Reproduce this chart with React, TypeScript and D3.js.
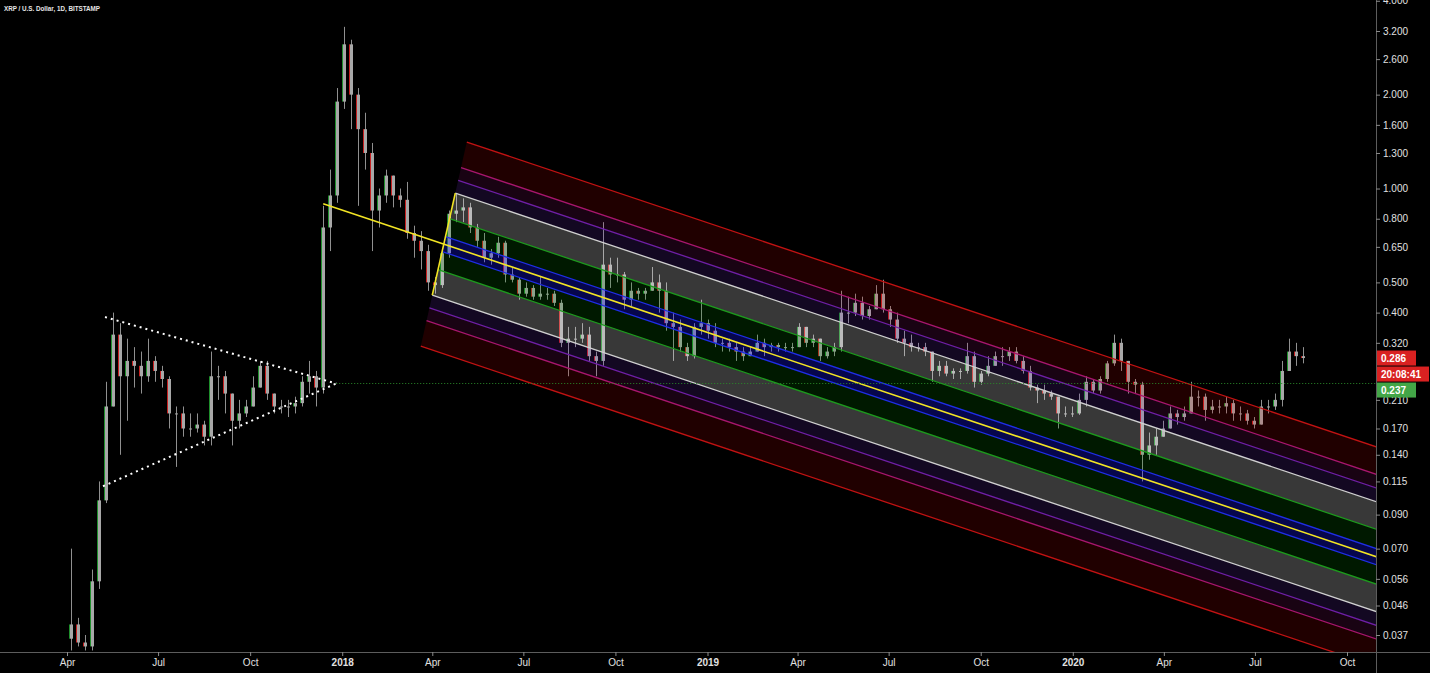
import * as d3 from 'd3'
import React, { useRef, useEffect } from 'react'

// weekly XRP/USD bars, starting 2017-04-01
const firstWeek = '2017-04-01'
const firstOpen = 0.036
const closes = [
  0.04, 0.035, 0.034, 0.055, 0.1, 0.2, 0.34, 0.25, 0.28, 0.27, 0.25, 0.28, 0.26, 0.245, 0.19, 0.19, 0.17, 0.17, 0.175, 0.16,
  0.25, 0.25, 0.22, 0.18, 0.19, 0.2, 0.23, 0.27, 0.22, 0.2, 0.2, 0.2, 0.205, 0.24, 0.25, 0.23, 0.75, 0.95, 1.9, 2.9,
  2.0, 1.55, 1.3, 0.85, 0.95, 1.1, 0.95, 0.92, 0.72, 0.68, 0.63, 0.5, 0.49, 0.62, 0.83, 0.85, 0.87, 0.75, 0.68, 0.6,
  0.62, 0.67, 0.53, 0.51, 0.46, 0.48, 0.45, 0.46, 0.46, 0.43, 0.32, 0.33, 0.33, 0.34, 0.29, 0.28, 0.57, 0.53, 0.53, 0.44,
  0.47, 0.46, 0.47, 0.5, 0.47, 0.37, 0.36, 0.31, 0.29, 0.36, 0.37, 0.35, 0.32, 0.32, 0.31, 0.3, 0.29, 0.3, 0.32, 0.31,
  0.315, 0.31, 0.31, 0.31, 0.36, 0.32, 0.33, 0.29, 0.3, 0.31, 0.4, 0.4, 0.43, 0.39, 0.41, 0.46, 0.41, 0.38, 0.33, 0.32,
  0.31, 0.31, 0.3, 0.26, 0.27, 0.255, 0.26, 0.26, 0.29, 0.24, 0.255, 0.27, 0.29, 0.29, 0.3, 0.28, 0.26, 0.23, 0.225, 0.22,
  0.215, 0.19, 0.19, 0.19, 0.21, 0.24, 0.225, 0.245, 0.275, 0.32, 0.28, 0.24, 0.235, 0.14, 0.15, 0.16, 0.17, 0.19, 0.185, 0.19,
  0.215, 0.215, 0.195, 0.2, 0.2, 0.205, 0.19, 0.19, 0.18, 0.175, 0.2, 0.2, 0.21, 0.26, 0.3, 0.29, 0.286,
]
const highs = [
  0.07, 0.042, 0.037, 0.06, 0.115, 0.24, 0.4, 0.37, 0.33, 0.31, 0.3, 0.33, 0.29, 0.27, 0.25, 0.2, 0.2, 0.19, 0.19, 0.18,
  0.3, 0.27, 0.26, 0.22, 0.21, 0.21, 0.25, 0.28, 0.28, 0.22, 0.21, 0.21, 0.215, 0.25, 0.28, 0.26, 0.88, 1.15, 2.1, 3.3,
  3.0, 2.1, 1.75, 1.4, 1.0, 1.15, 1.1, 1.0, 1.05, 0.76, 0.73, 0.66, 0.52, 0.64, 0.85, 0.96, 0.93, 0.9, 0.77, 0.72,
  0.64, 0.7, 0.68, 0.56, 0.52, 0.5, 0.49, 0.52, 0.48, 0.47, 0.44, 0.36, 0.36, 0.37, 0.36, 0.3, 0.78, 0.6, 0.6, 0.54,
  0.5, 0.48, 0.48, 0.56, 0.53, 0.5, 0.4, 0.38, 0.32, 0.37, 0.44, 0.38, 0.37, 0.33, 0.33, 0.32, 0.31, 0.31, 0.34, 0.33,
  0.32, 0.32, 0.32, 0.32, 0.37, 0.36, 0.34, 0.33, 0.31, 0.32, 0.47, 0.45, 0.46, 0.45, 0.42, 0.49, 0.51, 0.42, 0.4, 0.35,
  0.34, 0.32, 0.32, 0.3, 0.28, 0.28, 0.265, 0.265, 0.32, 0.3, 0.26, 0.29, 0.3, 0.31, 0.31, 0.31, 0.29, 0.27, 0.235, 0.235,
  0.225, 0.215, 0.2, 0.2, 0.22, 0.25, 0.245, 0.25, 0.28, 0.34, 0.33, 0.28, 0.245, 0.24, 0.165, 0.17, 0.18, 0.2, 0.195, 0.2,
  0.24, 0.225, 0.22, 0.21, 0.21, 0.215, 0.21, 0.2, 0.195, 0.185, 0.21, 0.21, 0.22, 0.28, 0.33, 0.32, 0.31,
]
const lows = [
  0.033, 0.034, 0.033, 0.033, 0.052, 0.098, 0.2, 0.14, 0.18, 0.23, 0.22, 0.24, 0.24, 0.23, 0.17, 0.128, 0.16, 0.16, 0.165, 0.15,
  0.15, 0.21, 0.19, 0.15, 0.17, 0.185, 0.2, 0.23, 0.21, 0.19, 0.19, 0.185, 0.19, 0.2, 0.22, 0.2, 0.22, 0.63, 0.9, 1.8,
  1.55, 0.88, 1.15, 0.63, 0.75, 0.9, 0.87, 0.87, 0.69, 0.6, 0.55, 0.47, 0.46, 0.48, 0.6, 0.78, 0.78, 0.72, 0.65, 0.58,
  0.57, 0.6, 0.5, 0.5, 0.44, 0.45, 0.44, 0.44, 0.44, 0.42, 0.31, 0.25, 0.31, 0.32, 0.28, 0.25, 0.27, 0.48, 0.5, 0.41,
  0.42, 0.44, 0.44, 0.47, 0.4, 0.35, 0.28, 0.3, 0.28, 0.285, 0.34, 0.33, 0.31, 0.3, 0.3, 0.28, 0.28, 0.29, 0.3, 0.29,
  0.3, 0.3, 0.3, 0.3, 0.31, 0.31, 0.31, 0.28, 0.285, 0.29, 0.3, 0.37, 0.39, 0.38, 0.38, 0.41, 0.4, 0.36, 0.32, 0.29,
  0.3, 0.3, 0.29, 0.24, 0.25, 0.25, 0.245, 0.245, 0.255, 0.23, 0.235, 0.25, 0.27, 0.27, 0.28, 0.275, 0.255, 0.225, 0.205, 0.21,
  0.21, 0.17, 0.185, 0.185, 0.188, 0.2, 0.22, 0.22, 0.24, 0.27, 0.26, 0.22, 0.22, 0.115, 0.135, 0.14, 0.16, 0.17, 0.175, 0.18,
  0.19, 0.2, 0.18, 0.19, 0.19, 0.19, 0.18, 0.18, 0.175, 0.17, 0.175, 0.19, 0.195, 0.2, 0.26, 0.27, 0.275,
]

// 0.260 is hidden behind the price labels in the reference
const priceTicks = [4.0, 3.2, 2.6, 2.0, 1.6, 1.3, 1.0, 0.8, 0.65, 0.5, 0.4, 0.32, 0.21, 0.17, 0.14, 0.115, 0.09, 0.07, 0.056, 0.046, 0.037]
const lastPrice = 0.286
const countdown = '20:08:41'
const rayPrice = 0.237
const title = 'XRP / U.S. Dollar, 1D, BITSTAMP'

// drawings: [date, price]
const triangleUpper = [['2017-05-09', 0.387], ['2017-12-26', 0.237]]
const triangleLower = [['2017-05-07', 0.111], ['2017-12-26', 0.237]]
const rayStart = '2017-12-26'
// handle, high, low
const pitchfork = [['2017-12-13', 0.894], ['2018-04-24', 0.967], ['2018-04-01', 0.455]]
const forkLevels = [0, 0.146, 0.5, 1, 1.25, 1.5, 2]
const forkLineColors = ['#f2e424', '#1f2ee6', '#1d9a1d', '#d0d0d0', '#6f1fa6', '#a8166e', '#c21212']
const forkFillColors = [
  'none',
  'rgba(20,20,255,0.30)',
  'rgba(0,150,0,0.17)',
  'rgba(255,255,255,0.22)',
  'rgba(120,50,210,0.16)',
  'rgba(170,20,130,0.15)',
  'rgba(200,0,0,0.16)',
]

const W = 1430
const H = 673
const plotRight = 1376
const plotBottom = 652
const font = '"Liberation Sans", Arial, sans-serif'

const App = () => {
  const ref = useRef(null)

  useEffect(() => {
    draw()
  }, [])

  const draw = () => {
    const parse = d3.utcParse('%Y-%m-%d')
    const svg = d3.select(ref.current)
    svg.selectAll('*').remove()

    const x = d3
      .scaleUtc()
      .domain([parse('2017-04-01'), parse('2020-10-01')])
      .range([67, 1347])
    const y = d3.scaleLog().domain([0.037, 3.2]).range([635, 31])

    svg.append('rect').attr('width', W).attr('height', H).attr('fill', '#000')

    svg
      .append('clipPath')
      .attr('id', 'plot-clip')
      .append('rect')
      .attr('width', plotRight)
      .attr('height', plotBottom)

    const plot = svg.append('g').attr('clip-path', 'url(#plot-clip)')

    // candles
    const t0 = parse(firstWeek)
    const bars = closes.map((c, i) => ({
      date: d3.utcDay.offset(t0, i * 7),
      open: i ? closes[i - 1] : firstOpen,
      close: c,
      high: highs[i],
      low: lows[i],
    }))
    const cx = (d: any) => Math.round(x(d3.utcHour.offset(d.date, 84))) + 0.5

    const candle = plot.append('g').selectAll('g').data(bars).enter().append('g')
    candle
      .append('line')
      .attr('x1', cx)
      .attr('x2', cx)
      .attr('y1', (d: any) => y(d.high))
      .attr('y2', (d: any) => y(d.low))
      .attr('stroke', '#909090')
    candle
      .append('rect')
      .attr('x', (d: any) => cx(d) - 1.5)
      .attr('width', 3)
      .attr('y', (d: any) => y(Math.max(d.open, d.close)))
      .attr('height', (d: any) => Math.max(1, Math.abs(y(d.open) - y(d.close))))
      .attr('fill', '#a8a8a8')
    candle
      .append('line')
      .attr('x1', (d: any) => cx(d) - 2)
      .attr('x2', (d: any) => cx(d) - 2)
      .attr('y1', (d: any) => y(d.open))
      .attr('y2', (d: any) => y(d.close))
      .attr('stroke', (d: any) => (d.close >= d.open ? '#1f8f2c' : '#c62020'))

    // pitchfork
    const pt = (p: any) => [x(parse(p[0])), y(p[1])]
    const [P1, A, B] = pitchfork.map(pt)
    const M = [(A[0] + B[0]) / 2, (A[1] + B[1]) / 2]
    const h = [(A[0] - B[0]) / 2, (A[1] - B[1]) / 2]
    const dir = [M[0] - P1[0], M[1] - P1[1]]
    const farX = plotRight + 60
    const ray = (s: number[]) => [farX, s[1] + ((farX - s[0]) / dir[0]) * dir[1]]
    const start = (k: number) => [M[0] + k * h[0], M[1] + k * h[1]]

    const fork = plot.append('g')
    forkLevels.forEach((k, j) => {
      if (j === 0) return
      const kin = forkLevels[j - 1]
      ;[1, -1].forEach((s) => {
        const a = start(s * kin)
        const b = start(s * k)
        fork
          .append('path')
          .attr('d', d3.line()([a, ray(a), ray(b), b] as any) + 'Z')
          .attr('fill', forkFillColors[j])
      })
    })
    forkLevels.forEach((k, j) => {
      if (j === 0) return
      ;[1, -1].forEach((s) => {
        const a = start(s * k)
        fork
          .append('path')
          .attr('d', d3.line()([a, ray(a)] as any))
          .attr('stroke', forkLineColors[j])
          .attr('stroke-width', 1.3)
          .attr('fill', 'none')
      })
    })
    fork
      .append('path')
      .attr('d', d3.line()([P1, ray(M)] as any))
      .attr('stroke', forkLineColors[0])
      .attr('stroke-width', 1.6)
      .attr('fill', 'none')
    fork
      .append('path')
      .attr('d', d3.line()([B, A] as any))
      .attr('stroke', forkLineColors[0])
      .attr('stroke-width', 1.6)
      .attr('fill', 'none')

    // triangle
    ;[triangleUpper, triangleLower].forEach((seg) => {
      plot
        .append('path')
        .attr('d', d3.line()(seg.map(pt) as any))
        .attr('stroke', '#ffffff')
        .attr('stroke-width', 2)
        .attr('stroke-dasharray', '2 4')
        .attr('fill', 'none')
    })

    // horizontal ray
    plot
      .append('line')
      .attr('x1', x(parse(rayStart)))
      .attr('x2', plotRight)
      .attr('y1', Math.round(y(rayPrice)) + 0.5)
      .attr('y2', Math.round(y(rayPrice)) + 0.5)
      .attr('stroke', '#2a8a2a')
      .attr('stroke-dasharray', '1 2')

    // axes
    svg
      .append('line')
      .attr('x1', plotRight + 0.5)
      .attr('x2', plotRight + 0.5)
      .attr('y1', 0)
      .attr('y2', H)
      .attr('stroke', '#5d5d5d')
    svg
      .append('line')
      .attr('x1', 0)
      .attr('x2', W)
      .attr('y1', plotBottom + 0.5)
      .attr('y2', plotBottom + 0.5)
      .attr('stroke', '#5d5d5d')

    const yAxis = d3
      .axisRight(y)
      .tickValues(priceTicks)
      .tickSize(4)
      .tickPadding(3)
      .tickFormat(d3.format('.3f') as any)
    const gy = svg
      .append('g')
      .attr('transform', 'translate(' + plotRight + ',0)')
      .call(yAxis)
    gy.select('.domain').remove()
    gy.selectAll('line').attr('stroke', '#8a8a8a')
    gy.selectAll('text').attr('fill', '#e0e0e0').style('font-size', '10px').style('font-family', font)

    const monthTicks = d3.utcMonth.every(3)!.range(x.invert(0), x.invert(plotRight))
    const xAxis = d3
      .axisBottom(x)
      .tickValues(monthTicks)
      .tickSize(4)
      .tickPadding(3)
      .tickFormat((d: any) => (d.getUTCMonth() === 0 ? d3.utcFormat('%Y')(d) : d3.utcFormat('%b')(d)))
    const gx = svg
      .append('g')
      .attr('transform', 'translate(0,' + plotBottom + ')')
      .call(xAxis)
    gx.select('.domain').remove()
    gx.selectAll('line').attr('stroke', '#8a8a8a')
    gx.selectAll('text')
      .attr('fill', '#e0e0e0')
      .style('font-size', '10px')
      .style('font-family', font)
      .style('font-weight', (d: any) => (d.getUTCMonth() === 0 ? 'bold' : 'normal'))

    // price labels
    const c0 = y(lastPrice)
    const labels = [
      { text: d3.format('.3f')(lastPrice), color: '#d92121', cy: c0, w: 39 },
      { text: countdown, color: '#d92121', cy: c0 + 16, w: 52 },
      { text: d3.format('.3f')(rayPrice), color: '#43a647', cy: c0 + 32, w: 39 },
    ]
    const lab = svg.append('g').selectAll('g').data(labels).enter().append('g')
    lab
      .append('rect')
      .attr('x', plotRight + 1)
      .attr('y', (d) => d.cy - 7.5)
      .attr('width', (d) => d.w)
      .attr('height', 15)
      .attr('fill', (d) => d.color)
    lab
      .append('text')
      .attr('x', plotRight + 5)
      .attr('y', (d) => d.cy + 3.5)
      .attr('fill', '#fff')
      .style('font-size', '10px')
      .style('font-weight', 'bold')
      .style('font-family', font)
      .text((d) => d.text)

    svg
      .append('text')
      .attr('x', 4)
      .attr('y', 11)
      .attr('fill', '#e6e6e6')
      .attr('textLength', 96)
      .attr('lengthAdjust', 'spacingAndGlyphs')
      .style('font-size', '7.5px')
      .style('font-weight', 'bold')
      .style('font-family', font)
      .text(title)
  }

  return (
    <div style={{ position: 'absolute', left: 0, top: 0 }}>
      <svg ref={ref} width={W} height={H} style={{ display: 'block' }} />
    </div>
  )
}

export default App
